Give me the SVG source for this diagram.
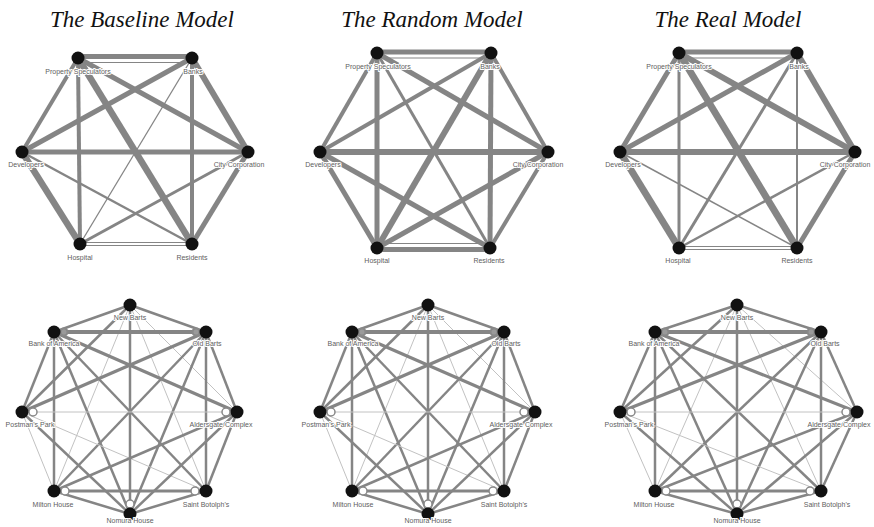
<svg xmlns="http://www.w3.org/2000/svg" width="874" height="527" viewBox="0 0 874 527">
<style>
.bg{fill:#fff}
.title{font-family:"Liberation Serif","Times New Roman",serif;font-style:italic;font-size:23px;fill:#111;text-anchor:middle}
.lbl{font-family:"Liberation Sans",Arial,sans-serif;font-size:7px;fill:#606060;text-anchor:middle;stroke:#fff;stroke-width:2;paint-order:stroke;stroke-linejoin:round}
.conn line{stroke:#858585;fill:none}
.conn line.m{stroke-width:2.5}
.conn line.k{stroke-width:4}
.conn line.k2{stroke-width:3.2}
.conn line.t{stroke-width:1;stroke:#c2c2c2}
.n{fill:#111}
.loop{fill:#fff;stroke:#888;stroke-width:1.5}
.loopk{fill:#9a9a9a;stroke:#888;stroke-width:2}
</style>
<rect class="bg" x="0" y="0" width="874" height="527"/>
<text class="title" x="142" y="27">The Baseline Model</text>
<text class="title" x="432" y="27">The Random Model</text>
<text class="title" x="728" y="27">The Real Model</text>

<!-- ===== Top-left: Baseline ===== -->
<g id="baseline-connectors" class="conn">
<line x1="78" y1="56.5" x2="192" y2="56.5" stroke-width="5"/>
<line x1="84" y1="62.5" x2="186" y2="62.5" stroke-width="1.2"/>
<line x1="78" y1="58" x2="22" y2="152" stroke-width="4"/>
<line x1="78" y1="58" x2="80" y2="244" stroke-width="4"/>
<line x1="78" y1="58" x2="248" y2="152" stroke-width="5"/>
<line x1="78" y1="58" x2="192" y2="244" stroke-width="6.5"/>
<line x1="192" y1="58" x2="22" y2="152" stroke-width="5"/>
<line x1="192" y1="58" x2="248" y2="152" stroke-width="6"/>
<line x1="192" y1="58" x2="80" y2="244" stroke-width="1.3"/>
<line x1="192" y1="58" x2="192" y2="244" stroke-width="4"/>
<line x1="22" y1="152" x2="248" y2="152" stroke-width="5"/>
<line x1="22" y1="152" x2="80" y2="244" stroke-width="6.5"/>
<line x1="22" y1="152" x2="192" y2="244" stroke-width="2.5"/>
<line x1="248" y1="152" x2="80" y2="244" stroke-width="3"/>
<line x1="248" y1="152" x2="192" y2="244" stroke-width="5"/>
<line x1="80" y1="242.5" x2="192" y2="242.5" stroke-width="1"/>
<line x1="80" y1="245.5" x2="192" y2="245.5" stroke-width="1"/>
</g>
<g id="baseline-property-speculators"><circle class="n" cx="78" cy="58" r="6.5"/><text class="lbl" x="78" y="73.5">Property Speculators</text></g>
<g id="baseline-banks"><circle class="n" cx="192" cy="58" r="6.5"/><text class="lbl" x="193" y="73.5">Banks</text></g>
<g id="baseline-developers"><circle class="n" cx="22" cy="152" r="6.5"/><text class="lbl" x="26" y="166.5">Developers</text></g>
<g id="baseline-city-corporation"><circle class="n" cx="248" cy="152" r="6.5"/><text class="lbl" x="239" y="166.5">City Corporation</text></g>
<g id="baseline-hospital"><circle class="n" cx="80" cy="244" r="6.5"/><text class="lbl" x="80" y="259.5">Hospital</text></g>
<g id="baseline-residents"><circle class="n" cx="192" cy="244" r="6.5"/><text class="lbl" x="192" y="259.5">Residents</text></g>

<!-- ===== Top-middle: Random ===== -->
<g id="random-connectors" class="conn">
<line x1="377" y1="52" x2="491" y2="52" stroke-width="5"/>
<line x1="383" y1="58" x2="485" y2="58" stroke-width="1.2"/>
<line x1="377" y1="53" x2="320" y2="152" stroke-width="4"/>
<line x1="377" y1="53" x2="377" y2="248" stroke-width="5"/>
<line x1="377" y1="53" x2="548" y2="152" stroke-width="5"/>
<line x1="377" y1="53" x2="490" y2="248" stroke-width="3"/>
<line x1="491" y1="53" x2="320" y2="152" stroke-width="4"/>
<line x1="491" y1="53" x2="548" y2="152" stroke-width="4"/>
<line x1="491" y1="53" x2="377" y2="248" stroke-width="6"/>
<line x1="491" y1="53" x2="490" y2="248" stroke-width="5"/>
<line x1="320" y1="152" x2="548" y2="152" stroke-width="6"/>
<line x1="320" y1="152" x2="377" y2="248" stroke-width="5"/>
<line x1="320" y1="152" x2="490" y2="248" stroke-width="5"/>
<line x1="548" y1="152" x2="377" y2="248" stroke-width="5"/>
<line x1="548" y1="152" x2="490" y2="248" stroke-width="4"/>
<line x1="377" y1="249.5" x2="490" y2="249.5" stroke-width="5"/>
<line x1="383" y1="243.5" x2="484" y2="243.5" stroke-width="1.2"/>
</g>
<g id="random-property-speculators"><circle class="n" cx="377" cy="53" r="6.5"/><text class="lbl" x="378" y="68.5">Property Speculators</text></g>
<g id="random-banks"><circle class="n" cx="491" cy="53" r="6.5"/><text class="lbl" x="490" y="68.5">Banks</text></g>
<g id="random-developers"><circle class="n" cx="320" cy="152" r="6.5"/><text class="lbl" x="323" y="166.5">Developers</text></g>
<g id="random-city-corporation"><circle class="n" cx="548" cy="152" r="6.5"/><text class="lbl" x="538" y="166.5">City Corporation</text></g>
<g id="random-hospital"><circle class="n" cx="377" cy="248" r="6.5"/><text class="lbl" x="377" y="262.5">Hospital</text></g>
<g id="random-residents"><circle class="n" cx="490" cy="248" r="6.5"/><text class="lbl" x="489" y="262.5">Residents</text></g>

<!-- ===== Top-right: Real ===== -->
<g id="real-connectors" class="conn">
<line x1="679" y1="52" x2="797" y2="52" stroke-width="5"/>
<line x1="685" y1="58" x2="791" y2="58" stroke-width="1.2"/>
<line x1="679" y1="53" x2="620" y2="152" stroke-width="5"/>
<line x1="679" y1="53" x2="679" y2="248" stroke-width="3"/>
<line x1="679" y1="53" x2="855" y2="152" stroke-width="6"/>
<line x1="679" y1="53" x2="797" y2="248" stroke-width="7"/>
<line x1="797" y1="53" x2="620" y2="152" stroke-width="5"/>
<line x1="797" y1="53" x2="855" y2="152" stroke-width="6"/>
<line x1="797" y1="53" x2="679" y2="248" stroke-width="3"/>
<line x1="797" y1="53" x2="797" y2="248" stroke-width="2"/>
<line x1="620" y1="152" x2="855" y2="152" stroke-width="6"/>
<line x1="620" y1="152" x2="679" y2="248" stroke-width="7"/>
<line x1="620" y1="152" x2="797" y2="248" stroke-width="1.5"/>
<line x1="855" y1="152" x2="679" y2="248" stroke-width="2.5"/>
<line x1="855" y1="152" x2="797" y2="248" stroke-width="5"/>
<line x1="679" y1="246.5" x2="797" y2="246.5" stroke-width="1"/>
<line x1="679" y1="249.5" x2="797" y2="249.5" stroke-width="1"/>
</g>
<g id="real-property-speculators"><circle class="n" cx="679" cy="53" r="6.5"/><text class="lbl" x="679" y="69">Property Speculators</text></g>
<g id="real-banks"><circle class="n" cx="797" cy="53" r="6.5"/><text class="lbl" x="799" y="69">Banks</text></g>
<g id="real-developers"><circle class="n" cx="620" cy="152" r="6.5"/><text class="lbl" x="623" y="166.5">Developers</text></g>
<g id="real-city-corporation"><circle class="n" cx="855" cy="152" r="6.5"/><text class="lbl" x="845" y="166.5">City Corporation</text></g>
<g id="real-hospital"><circle class="n" cx="679" cy="248" r="6.5"/><text class="lbl" x="678" y="262.5">Hospital</text></g>
<g id="real-residents"><circle class="n" cx="797" cy="248" r="6.5"/><text class="lbl" x="797" y="262.5">Residents</text></g>

<!-- ===== Bottom-left ===== -->
<g id="bl-connectors" class="conn">
<line class="m" x1="130" y1="305" x2="54" y2="332"/>
<line class="m" x1="130" y1="305" x2="206" y2="332"/>
<line class="m" x1="130" y1="305" x2="22" y2="412"/>
<line class="t" x1="130" y1="305" x2="237" y2="412"/>
<line class="t" x1="130" y1="305" x2="54" y2="491"/>
<line class="t" x1="130" y1="305" x2="206" y2="491"/>
<line class="m" x1="130" y1="305" x2="130" y2="514"/>
<line class="k" x1="54" y1="332" x2="206" y2="332"/>
<line class="m" x1="54" y1="332" x2="22" y2="412"/>
<line class="k2" x1="54" y1="332" x2="237" y2="412"/>
<line class="m" x1="54" y1="332" x2="54" y2="491"/>
<line class="m" x1="54" y1="332" x2="206" y2="491"/>
<line class="m" x1="54" y1="332" x2="130" y2="514"/>
<line class="k2" x1="206" y1="332" x2="22" y2="412"/>
<line class="m" x1="206" y1="332" x2="237" y2="412"/>
<line class="m" x1="206" y1="332" x2="54" y2="491"/>
<line class="m" x1="206" y1="332" x2="206" y2="491"/>
<line class="m" x1="206" y1="332" x2="130" y2="514"/>
<line class="t" x1="22" y1="412" x2="237" y2="412"/>
<line class="t" x1="22" y1="412" x2="54" y2="491"/>
<line class="t" x1="22" y1="412" x2="206" y2="491"/>
<line class="m" x1="22" y1="412" x2="130" y2="514"/>
<line class="m" x1="237" y1="412" x2="54" y2="491"/>
<line class="m" x1="237" y1="412" x2="206" y2="491"/>
<line class="m" x1="237" y1="412" x2="130" y2="514"/>
<line class="k2" x1="54" y1="491" x2="206" y2="491"/>
<line class="m" x1="54" y1="491" x2="130" y2="514"/>
<line class="m" x1="206" y1="491" x2="130" y2="514"/>
</g>
<g id="bl-new-barts"><circle class="n" cx="130" cy="305" r="6.5"/><text class="lbl" x="130" y="320">New Barts</text></g>
<g id="bl-bank-of-america"><circle class="loopk" cx="64" cy="332" r="3.5"/><circle class="n" cx="54" cy="332" r="6.5"/><text class="lbl" x="54" y="345.5">Bank of America</text></g>
<g id="bl-old-barts"><circle class="loopk" cx="196" cy="332" r="3.5"/><circle class="n" cx="206" cy="332" r="6.5"/><text class="lbl" x="207" y="345.5">Old Barts</text></g>
<g id="bl-postmans-park"><circle class="loop" cx="33" cy="412" r="4"/><circle class="n" cx="22" cy="412" r="6.5"/><text class="lbl" x="30" y="426.5">Postman's Park</text></g>
<g id="bl-aldersgate-complex"><circle class="loop" cx="226" cy="412" r="4"/><circle class="n" cx="237" cy="412" r="6.5"/><text class="lbl" x="221" y="426.5">Aldersgate Complex</text></g>
<g id="bl-milton-house"><circle class="loop" cx="65" cy="491" r="4"/><circle class="n" cx="54" cy="491" r="6.5"/><text class="lbl" x="53" y="506.5">Milton House</text></g>
<g id="bl-saint-botolphs"><circle class="loop" cx="195" cy="491" r="4"/><circle class="n" cx="206" cy="491" r="6.5"/><text class="lbl" x="206" y="506.5">Saint Botolph's</text></g>
<g id="bl-nomura-house"><circle class="loop" cx="130" cy="504" r="4"/><circle class="n" cx="130" cy="514" r="6.5"/><text class="lbl" x="130" y="522.5">Nomura House</text></g>

<!-- ===== Bottom-middle ===== -->
<g id="bm-connectors" class="conn">
<line class="m" x1="428" y1="305" x2="352" y2="332"/>
<line class="m" x1="428" y1="305" x2="504" y2="332"/>
<line class="m" x1="428" y1="305" x2="320" y2="412"/>
<line class="t" x1="428" y1="305" x2="535" y2="412"/>
<line class="t" x1="428" y1="305" x2="352" y2="491"/>
<line class="t" x1="428" y1="305" x2="504" y2="491"/>
<line class="m" x1="428" y1="305" x2="428" y2="514"/>
<line class="k" x1="352" y1="332" x2="504" y2="332"/>
<line class="m" x1="352" y1="332" x2="320" y2="412"/>
<line class="k2" x1="352" y1="332" x2="535" y2="412"/>
<line class="m" x1="352" y1="332" x2="352" y2="491"/>
<line class="m" x1="352" y1="332" x2="504" y2="491"/>
<line class="m" x1="352" y1="332" x2="428" y2="514"/>
<line class="k2" x1="504" y1="332" x2="320" y2="412"/>
<line class="m" x1="504" y1="332" x2="535" y2="412"/>
<line class="m" x1="504" y1="332" x2="352" y2="491"/>
<line class="m" x1="504" y1="332" x2="504" y2="491"/>
<line class="m" x1="504" y1="332" x2="428" y2="514"/>
<line class="t" x1="320" y1="412" x2="535" y2="412"/>
<line class="t" x1="320" y1="412" x2="352" y2="491"/>
<line class="t" x1="320" y1="412" x2="504" y2="491"/>
<line class="m" x1="320" y1="412" x2="428" y2="514"/>
<line class="m" x1="535" y1="412" x2="352" y2="491"/>
<line class="m" x1="535" y1="412" x2="504" y2="491"/>
<line class="m" x1="535" y1="412" x2="428" y2="514"/>
<line class="k2" x1="352" y1="491" x2="504" y2="491"/>
<line class="m" x1="352" y1="491" x2="428" y2="514"/>
<line class="m" x1="504" y1="491" x2="428" y2="514"/>
</g>
<g id="bm-new-barts"><circle class="n" cx="428" cy="305" r="6.5"/><text class="lbl" x="428" y="320">New Barts</text></g>
<g id="bm-bank-of-america"><circle class="loopk" cx="362" cy="332" r="3.5"/><circle class="n" cx="352" cy="332" r="6.5"/><text class="lbl" x="353" y="345.5">Bank of America</text></g>
<g id="bm-old-barts"><circle class="loopk" cx="494" cy="332" r="3.5"/><circle class="n" cx="504" cy="332" r="6.5"/><text class="lbl" x="506" y="345.5">Old Barts</text></g>
<g id="bm-postmans-park"><circle class="loop" cx="331" cy="412" r="4"/><circle class="n" cx="320" cy="412" r="6.5"/><text class="lbl" x="326" y="426.5">Postman's Park</text></g>
<g id="bm-aldersgate-complex"><circle class="loop" cx="524" cy="412" r="4"/><circle class="n" cx="535" cy="412" r="6.5"/><text class="lbl" x="521" y="426.5">Aldersgate Complex</text></g>
<g id="bm-milton-house"><circle class="loop" cx="363" cy="491" r="4"/><circle class="n" cx="352" cy="491" r="6.5"/><text class="lbl" x="353" y="506.5">Milton House</text></g>
<g id="bm-saint-botolphs"><circle class="loop" cx="493" cy="491" r="4"/><circle class="n" cx="504" cy="491" r="6.5"/><text class="lbl" x="504" y="506.5">Saint Botolph's</text></g>
<g id="bm-nomura-house"><circle class="loop" cx="428" cy="504" r="4"/><circle class="n" cx="428" cy="514" r="6.5"/><text class="lbl" x="428" y="522.5">Nomura House</text></g>

<!-- ===== Bottom-right ===== -->
<g id="br-connectors" class="conn">
<line class="m" x1="737" y1="305" x2="655" y2="332"/>
<line class="m" x1="737" y1="305" x2="821" y2="332"/>
<line class="m" x1="737" y1="305" x2="620" y2="412"/>
<line class="t" x1="737" y1="305" x2="857" y2="412"/>
<line class="t" x1="737" y1="305" x2="655" y2="491"/>
<line class="t" x1="737" y1="305" x2="821" y2="491"/>
<line class="m" x1="737" y1="305" x2="737" y2="514"/>
<line class="k" x1="655" y1="332" x2="821" y2="332"/>
<line class="m" x1="655" y1="332" x2="620" y2="412"/>
<line class="k2" x1="655" y1="332" x2="857" y2="412"/>
<line class="m" x1="655" y1="332" x2="655" y2="491"/>
<line class="m" x1="655" y1="332" x2="821" y2="491"/>
<line class="m" x1="655" y1="332" x2="737" y2="514"/>
<line class="k2" x1="821" y1="332" x2="620" y2="412"/>
<line class="m" x1="821" y1="332" x2="857" y2="412"/>
<line class="m" x1="821" y1="332" x2="655" y2="491"/>
<line class="m" x1="821" y1="332" x2="821" y2="491"/>
<line class="m" x1="821" y1="332" x2="737" y2="514"/>
<line class="t" x1="620" y1="412" x2="857" y2="412"/>
<line class="t" x1="620" y1="412" x2="655" y2="491"/>
<line class="t" x1="620" y1="412" x2="821" y2="491"/>
<line class="m" x1="620" y1="412" x2="737" y2="514"/>
<line class="m" x1="857" y1="412" x2="655" y2="491"/>
<line class="m" x1="857" y1="412" x2="821" y2="491"/>
<line class="m" x1="857" y1="412" x2="737" y2="514"/>
<line class="k2" x1="655" y1="491" x2="821" y2="491"/>
<line class="m" x1="655" y1="491" x2="737" y2="514"/>
<line class="m" x1="821" y1="491" x2="737" y2="514"/>
</g>
<g id="br-new-barts"><circle class="n" cx="737" cy="305" r="6.5"/><text class="lbl" x="737" y="320">New Barts</text></g>
<g id="br-bank-of-america"><circle class="loopk" cx="665" cy="332" r="3.5"/><circle class="n" cx="655" cy="332" r="6.5"/><text class="lbl" x="654" y="345.5">Bank of America</text></g>
<g id="br-old-barts"><circle class="loopk" cx="811" cy="332" r="3.5"/><circle class="n" cx="821" cy="332" r="6.5"/><text class="lbl" x="825" y="345.5">Old Barts</text></g>
<g id="br-postmans-park"><circle class="loop" cx="631" cy="412" r="4"/><circle class="n" cx="620" cy="412" r="6.5"/><text class="lbl" x="629" y="426.5">Postman's Park</text></g>
<g id="br-aldersgate-complex"><circle class="loop" cx="846" cy="412" r="4"/><circle class="n" cx="857" cy="412" r="6.5"/><text class="lbl" x="839" y="426.5">Aldersgate Complex</text></g>
<g id="br-milton-house"><circle class="loop" cx="666" cy="491" r="4"/><circle class="n" cx="655" cy="491" r="6.5"/><text class="lbl" x="654" y="506.5">Milton House</text></g>
<g id="br-saint-botolphs"><circle class="loop" cx="810" cy="491" r="4"/><circle class="n" cx="821" cy="491" r="6.5"/><text class="lbl" x="827" y="506.5">Saint Botolph's</text></g>
<g id="br-nomura-house"><circle class="loop" cx="737" cy="504" r="4"/><circle class="n" cx="737" cy="514" r="6.5"/><text class="lbl" x="737" y="522.5">Nomura House</text></g>
</svg>
